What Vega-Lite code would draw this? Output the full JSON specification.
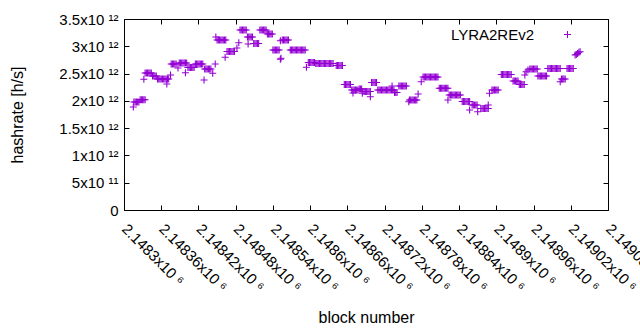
{
"$schema": "https://vega.github.io/schema/vega-lite/v6.json",
"width": 484, "height": 191,
"autosize": "none",
"padding": {"left": 124, "top": 19, "right": 32, "bottom": 120},
"background": "white",
"config": {"view": {"stroke": "black", "strokeWidth": 1}, "font": "Liberation Sans",
  "axis": {"grid": false, "domain": false, "tickColor": "black", "tickSize": -5, "labelColor": "black", "titleColor": "black", "labelFontSize": 15, "titleFontSize": 16, "titleFontWeight": "normal", "labelFont": "Liberation Sans", "titleFont": "Liberation Sans"}},
"data": {"values": [
{"b":2148315,"h":1.887e12},
{"b":2148316,"h":1.98e12},{"b":2148318,"h":1.98e12},{"b":2148320,"h":1.98e12},{"b":2148322,"h":1.98e12},{"b":2148324,"h":1.98e12},
{"b":2148326,"h":2.02e12},{"b":2148328,"h":2.02e12},{"b":2148330,"h":2.02e12},{"b":2148332,"h":2.02e12},{"b":2148334,"h":2.02e12},
{"b":2148332,"h":2.395e12},
{"b":2148334,"h":2.511e12},{"b":2148336,"h":2.511e12},{"b":2148338,"h":2.511e12},{"b":2148340,"h":2.511e12},{"b":2148342,"h":2.511e12},{"b":2148344,"h":2.511e12},
{"b":2148346,"h":2.456e12},{"b":2148348,"h":2.456e12},{"b":2148350,"h":2.456e12},{"b":2148352,"h":2.456e12},
{"b":2148354,"h":2.401e12},{"b":2148356,"h":2.401e12},{"b":2148358,"h":2.401e12},{"b":2148360,"h":2.401e12},{"b":2148362,"h":2.401e12},{"b":2148364,"h":2.401e12},{"b":2148366,"h":2.401e12},{"b":2148368,"h":2.401e12},{"b":2148370,"h":2.401e12},{"b":2148372,"h":2.401e12},
{"b":2148369,"h":2.309e12},
{"b":2148375,"h":2.474e12},
{"b":2148376,"h":2.675e12},{"b":2148378,"h":2.675e12},{"b":2148380,"h":2.675e12},{"b":2148382,"h":2.675e12},{"b":2148384,"h":2.675e12},
{"b":2148387,"h":2.602e12},
{"b":2148389,"h":2.694e12},{"b":2148391,"h":2.694e12},{"b":2148393,"h":2.694e12},{"b":2148395,"h":2.694e12},{"b":2148397,"h":2.694e12},{"b":2148399,"h":2.694e12},{"b":2148401,"h":2.694e12},
{"b":2148399,"h":2.516e12},
{"b":2148403,"h":2.611e12},{"b":2148405,"h":2.611e12},{"b":2148407,"h":2.611e12},{"b":2148409,"h":2.611e12},{"b":2148411,"h":2.611e12},{"b":2148413,"h":2.611e12},
{"b":2148415,"h":2.675e12},{"b":2148417,"h":2.675e12},{"b":2148419,"h":2.675e12},{"b":2148421,"h":2.675e12},{"b":2148423,"h":2.675e12},{"b":2148425,"h":2.675e12},{"b":2148427,"h":2.675e12},
{"b":2148429,"h":2.382e12},
{"b":2148430,"h":2.584e12},{"b":2148432,"h":2.584e12},{"b":2148434,"h":2.584e12},{"b":2148436,"h":2.584e12},{"b":2148438,"h":2.584e12},{"b":2148440,"h":2.584e12},
{"b":2148443,"h":2.505e12},
{"b":2148447,"h":2.675e12},
{"b":2148448,"h":3.17e12},
{"b":2148450,"h":3.115e12},{"b":2148452,"h":3.115e12},{"b":2148454,"h":3.115e12},{"b":2148456,"h":3.115e12},{"b":2148458,"h":3.115e12},{"b":2148460,"h":3.115e12},{"b":2148462,"h":3.115e12},{"b":2148464,"h":3.115e12},
{"b":2148463,"h":2.798e12},
{"b":2148466,"h":2.905e12},{"b":2148468,"h":2.905e12},{"b":2148470,"h":2.905e12},{"b":2148472,"h":2.905e12},{"b":2148474,"h":2.905e12},{"b":2148476,"h":2.905e12},{"b":2148478,"h":2.905e12},
{"b":2148482,"h":2.969e12},
{"b":2148485,"h":3.066e12},
{"b":2148487,"h":3.299e12},{"b":2148489,"h":3.299e12},{"b":2148491,"h":3.299e12},{"b":2148493,"h":3.299e12},{"b":2148495,"h":3.299e12},{"b":2148497,"h":3.299e12},
{"b":2148499,"h":3.17e12},{"b":2148501,"h":3.17e12},{"b":2148503,"h":3.17e12},{"b":2148505,"h":3.17e12},{"b":2148507,"h":3.17e12},
{"b":2148500,"h":3.042e12},
{"b":2148509,"h":3.051e12},{"b":2148511,"h":3.051e12},{"b":2148513,"h":3.051e12},{"b":2148515,"h":3.051e12},{"b":2148517,"h":3.051e12},
{"b":2148519,"h":3.299e12},{"b":2148521,"h":3.299e12},{"b":2148523,"h":3.299e12},{"b":2148525,"h":3.299e12},{"b":2148527,"h":3.299e12},{"b":2148529,"h":3.299e12},
{"b":2148531,"h":3.225e12},{"b":2148533,"h":3.225e12},{"b":2148535,"h":3.225e12},{"b":2148537,"h":3.225e12},{"b":2148539,"h":3.225e12},
{"b":2148540,"h":2.932e12},{"b":2148542,"h":2.932e12},{"b":2148544,"h":2.932e12},{"b":2148546,"h":2.932e12},{"b":2148548,"h":2.932e12},{"b":2148550,"h":2.932e12},
{"b":2148552,"h":3.102e12},
{"b":2148552,"h":2.762e12},{"b":2148553,"h":2.78e12},
{"b":2148555,"h":3.115e12},{"b":2148557,"h":3.115e12},{"b":2148559,"h":3.115e12},{"b":2148561,"h":3.115e12},{"b":2148563,"h":3.115e12},{"b":2148565,"h":3.115e12},
{"b":2148568,"h":2.932e12},{"b":2148570,"h":2.932e12},{"b":2148572,"h":2.932e12},{"b":2148574,"h":2.932e12},{"b":2148576,"h":2.932e12},{"b":2148578,"h":2.932e12},{"b":2148580,"h":2.932e12},{"b":2148582,"h":2.932e12},{"b":2148584,"h":2.932e12},{"b":2148586,"h":2.932e12},{"b":2148588,"h":2.932e12},{"b":2148590,"h":2.932e12},{"b":2148592,"h":2.932e12},
{"b":2148594,"h":2.615e12},
{"b":2148597,"h":2.703e12},{"b":2148599,"h":2.703e12},{"b":2148601,"h":2.703e12},{"b":2148603,"h":2.703e12},{"b":2148605,"h":2.703e12},{"b":2148607,"h":2.703e12},
{"b":2148609,"h":2.685e12},{"b":2148611,"h":2.685e12},{"b":2148613,"h":2.685e12},{"b":2148615,"h":2.685e12},{"b":2148617,"h":2.685e12},{"b":2148619,"h":2.685e12},{"b":2148621,"h":2.685e12},{"b":2148623,"h":2.685e12},{"b":2148625,"h":2.685e12},{"b":2148627,"h":2.685e12},{"b":2148629,"h":2.685e12},{"b":2148631,"h":2.685e12},{"b":2148633,"h":2.685e12},{"b":2148635,"h":2.685e12},{"b":2148637,"h":2.685e12},
{"b":2148642,"h":2.648e12},{"b":2148644,"h":2.648e12},{"b":2148646,"h":2.648e12},{"b":2148648,"h":2.648e12},{"b":2148650,"h":2.648e12},{"b":2148652,"h":2.648e12},
{"b":2148655,"h":2.3e12},{"b":2148657,"h":2.3e12},{"b":2148659,"h":2.3e12},{"b":2148661,"h":2.3e12},{"b":2148663,"h":2.3e12},{"b":2148665,"h":2.3e12},
{"b":2148667,"h":2.199e12},{"b":2148669,"h":2.199e12},{"b":2148671,"h":2.199e12},{"b":2148673,"h":2.199e12},{"b":2148675,"h":2.199e12},{"b":2148677,"h":2.199e12},
{"b":2148669,"h":2.144e12},
{"b":2148679,"h":2.217e12},{"b":2148681,"h":2.217e12},{"b":2148683,"h":2.217e12},
{"b":2148685,"h":2.172e12},{"b":2148687,"h":2.172e12},{"b":2148689,"h":2.172e12},{"b":2148691,"h":2.172e12},{"b":2148693,"h":2.172e12},{"b":2148695,"h":2.172e12},{"b":2148697,"h":2.172e12},
{"b":2148697,"h":2.076e12},
{"b":2148684,"h":2.139e12},
{"b":2148699,"h":2.336e12},{"b":2148701,"h":2.336e12},{"b":2148703,"h":2.336e12},{"b":2148705,"h":2.336e12},{"b":2148707,"h":2.336e12},
{"b":2148709,"h":2.199e12},{"b":2148711,"h":2.199e12},{"b":2148713,"h":2.199e12},{"b":2148715,"h":2.199e12},{"b":2148717,"h":2.199e12},{"b":2148719,"h":2.199e12},{"b":2148721,"h":2.199e12},{"b":2148723,"h":2.199e12},{"b":2148725,"h":2.199e12},{"b":2148727,"h":2.199e12},{"b":2148729,"h":2.199e12},{"b":2148731,"h":2.199e12},{"b":2148733,"h":2.199e12},{"b":2148735,"h":2.199e12},
{"b":2148732,"h":2.272e12},
{"b":2148736,"h":2.153e12},{"b":2148738,"h":2.153e12},{"b":2148740,"h":2.153e12},
{"b":2148743,"h":2.272e12},{"b":2148745,"h":2.272e12},{"b":2148747,"h":2.272e12},{"b":2148749,"h":2.272e12},{"b":2148751,"h":2.272e12},{"b":2148753,"h":2.272e12},{"b":2148755,"h":2.272e12},
{"b":2148759,"h":1.985e12},
{"b":2148760,"h":2.016e12},{"b":2148762,"h":2.016e12},{"b":2148764,"h":2.016e12},{"b":2148766,"h":2.016e12},{"b":2148768,"h":2.016e12},{"b":2148770,"h":2.016e12},{"b":2148772,"h":2.016e12},
{"b":2148774,"h":2.126e12},
{"b":2148779,"h":2.351e12},
{"b":2148782,"h":2.437e12},{"b":2148784,"h":2.437e12},{"b":2148786,"h":2.437e12},{"b":2148788,"h":2.437e12},{"b":2148790,"h":2.437e12},{"b":2148792,"h":2.437e12},{"b":2148794,"h":2.437e12},{"b":2148796,"h":2.437e12},{"b":2148798,"h":2.437e12},{"b":2148800,"h":2.437e12},{"b":2148802,"h":2.437e12},{"b":2148804,"h":2.437e12},{"b":2148806,"h":2.437e12},
{"b":2148808,"h":2.23e12},{"b":2148810,"h":2.23e12},{"b":2148812,"h":2.23e12},{"b":2148814,"h":2.23e12},{"b":2148816,"h":2.23e12},{"b":2148818,"h":2.23e12},{"b":2148820,"h":2.23e12},{"b":2148822,"h":2.23e12},
{"b":2148824,"h":2.107e12},{"b":2148826,"h":2.107e12},{"b":2148828,"h":2.107e12},{"b":2148830,"h":2.107e12},{"b":2148832,"h":2.107e12},{"b":2148834,"h":2.107e12},{"b":2148836,"h":2.107e12},{"b":2148838,"h":2.107e12},{"b":2148840,"h":2.107e12},{"b":2148842,"h":2.107e12},
{"b":2148822,"h":2.016e12},
{"b":2148845,"h":1.988e12},{"b":2148847,"h":1.988e12},{"b":2148849,"h":1.988e12},{"b":2148851,"h":1.988e12},{"b":2148853,"h":1.988e12},{"b":2148855,"h":1.988e12},{"b":2148857,"h":1.988e12},
{"b":2148857,"h":1.833e12},
{"b":2148861,"h":1.924e12},{"b":2148863,"h":1.924e12},{"b":2148865,"h":1.924e12},{"b":2148867,"h":1.924e12},{"b":2148869,"h":1.924e12},
{"b":2148870,"h":1.801e12},
{"b":2148875,"h":1.86e12},{"b":2148877,"h":1.86e12},{"b":2148879,"h":1.86e12},{"b":2148881,"h":1.86e12},{"b":2148883,"h":1.86e12},{"b":2148885,"h":1.86e12},{"b":2148887,"h":1.86e12},
{"b":2148887,"h":1.924e12},
{"b":2148889,"h":2.139e12},
{"b":2148893,"h":2.199e12},{"b":2148895,"h":2.199e12},{"b":2148897,"h":2.199e12},{"b":2148899,"h":2.199e12},{"b":2148901,"h":2.199e12},{"b":2148903,"h":2.199e12},
{"b":2148908,"h":2.483e12},{"b":2148910,"h":2.483e12},{"b":2148912,"h":2.483e12},{"b":2148914,"h":2.483e12},{"b":2148916,"h":2.483e12},{"b":2148918,"h":2.483e12},{"b":2148920,"h":2.483e12},{"b":2148922,"h":2.483e12},{"b":2148924,"h":2.483e12},
{"b":2148927,"h":2.364e12},{"b":2148929,"h":2.364e12},{"b":2148931,"h":2.364e12},{"b":2148933,"h":2.364e12},{"b":2148935,"h":2.364e12},
{"b":2148937,"h":2.3e12},{"b":2148939,"h":2.3e12},{"b":2148941,"h":2.3e12},{"b":2148943,"h":2.3e12},{"b":2148945,"h":2.3e12},
{"b":2148946,"h":2.474e12},{"b":2148948,"h":2.534e12},{"b":2148951,"h":2.565e12},
{"b":2148954,"h":2.584e12},{"b":2148956,"h":2.584e12},{"b":2148958,"h":2.584e12},{"b":2148960,"h":2.584e12},{"b":2148962,"h":2.584e12},{"b":2148964,"h":2.584e12},{"b":2148966,"h":2.584e12},
{"b":2148967,"h":2.456e12},{"b":2148969,"h":2.456e12},{"b":2148971,"h":2.456e12},{"b":2148973,"h":2.456e12},{"b":2148975,"h":2.456e12},{"b":2148977,"h":2.456e12},{"b":2148979,"h":2.456e12},{"b":2148981,"h":2.456e12},
{"b":2148983,"h":2.593e12},{"b":2148985,"h":2.593e12},{"b":2148987,"h":2.593e12},{"b":2148989,"h":2.593e12},{"b":2148991,"h":2.593e12},{"b":2148993,"h":2.593e12},{"b":2148995,"h":2.593e12},{"b":2148997,"h":2.593e12},{"b":2148999,"h":2.593e12},{"b":2149001,"h":2.593e12},{"b":2149003,"h":2.593e12},
{"b":2149003,"h":2.351e12},
{"b":2149005,"h":2.401e12},{"b":2149007,"h":2.401e12},{"b":2149009,"h":2.401e12},{"b":2149011,"h":2.401e12},
{"b":2149014,"h":2.593e12},{"b":2149016,"h":2.593e12},{"b":2149018,"h":2.593e12},{"b":2149020,"h":2.593e12},{"b":2149022,"h":2.593e12},{"b":2149024,"h":2.593e12},
{"b":2149027,"h":2.84e12},{"b":2149029,"h":2.85e12},{"b":2149031,"h":2.87e12},{"b":2149033,"h":2.89e12},{"b":2149035,"h":2.9e12}
]},
"layer": [
 {"mark": {"type": "point", "shape": "M-1,0H1M0,-1V1", "filled": false, "strokeWidth": 1.1, "size": 49, "opacity": 1},
  "encoding": {
   "x": {"field": "b", "type": "quantitative", "scale": {"domain": [2148300, 2149080], "nice": false, "zero": false},
     "axis": {"orient": "bottom", "values": [2148300,2148360,2148420,2148480,2148540,2148600,2148660,2148720,2148780,2148840,2148900,2148960,2149020,2149080],
       "labelExpr": "format(datum.value/1e6, '.6~g') + 'x10 ⁶'", "labelAngle": 45, "labelAlign": "left", "labelBaseline": "middle", "labelPadding": 21, "labelOverlap": false, "labelFlush": false, "labelBound": false,
       "title": "block number", "titleY": 112, "titleBaseline": "alphabetic"}},
   "y": {"field": "h", "type": "quantitative", "scale": {"domain": [0, 3.5e12], "nice": false, "zero": true},
     "axis": {"orient": "left", "values": [0,5e11,1e12,1.5e12,2e12,2.5e12,3e12,3.5e12],
       "labelExpr": "datum.value == 0 ? '0' : (datum.value < 1e12 ? (datum.value/1e11) + 'x10 ¹¹' : (datum.value/1e12) + 'x10 ¹²')",
       "labelPadding": 11, "labelOverlap": false, "labelFlush": false, "labelBound": false,
       "title": "hashrate [h/s]", "titleX": -102, "titleBaseline": "alphabetic"}},
   "color": {"datum": "LYRA2REv2", "scale": {"range": ["#9400d3"]},
     "legend": {"orient": "none", "legendX": 436, "legendY": 8, "title": null, "labelFontSize": 15, "labelFont": "Liberation Sans", "labelColor": "black", "labelAlign": "right", "labelOffset": -41, "symbolSize": 49, "symbolStrokeWidth": 1, "symbolType": "M-1,0H1M0,-1V1", "symbolFillColor": "transparent", "symbolStrokeColor": "#9400d3", "padding": 0}}
  }},
 {"mark": {"type": "point", "opacity": 0},
  "encoding": {
   "x": {"field": "b", "type": "quantitative", "scale": {"domain": [2148300, 2149080], "nice": false, "zero": false},
     "axis": {"orient": "top", "values": [2148300,2148360,2148420,2148480,2148540,2148600,2148660,2148720,2148780,2148840,2148900,2148960,2149020,2149080], "labels": false, "title": null}},
   "y": {"field": "h", "type": "quantitative", "scale": {"domain": [0, 3.5e12], "nice": false, "zero": true},
     "axis": {"orient": "right", "values": [0,5e11,1e12,1.5e12,2e12,2.5e12,3e12,3.5e12], "labels": false, "title": null}}
  }}
],
"resolve": {"scale": {"x": "independent", "y": "independent"}, "axis": {"x": "independent", "y": "independent"}}
}
